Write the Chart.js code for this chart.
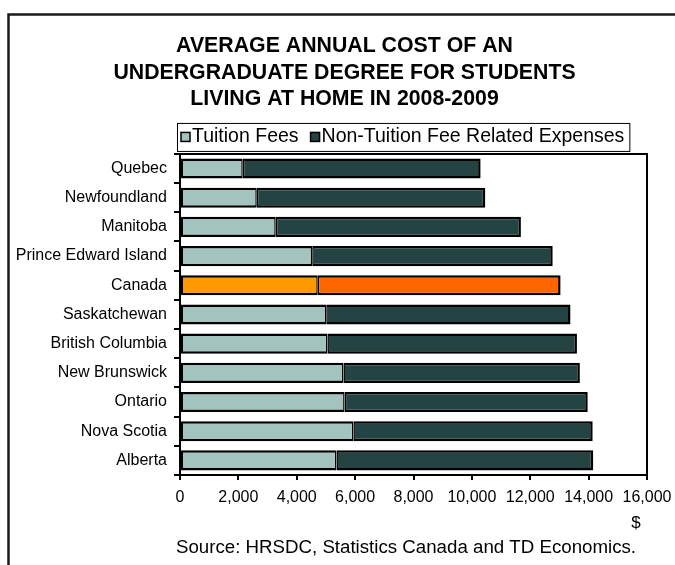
<!DOCTYPE html>
<html>
<head>
<meta charset="utf-8">
<script src="https://cdn.jsdelivr.net/npm/chart.js@4.4.1/dist/chart.umd.min.js"></script>
<style>
    html, body { margin: 0; padding: 0; background: #fff; }
</style>
</head>
<body>
<canvas id="chartCost" width="675" height="565"></canvas>
<script>
const provinces = ["Quebec", "Newfoundland", "Manitoba", "Prince Edward Island", "Canada",
    "Saskatchewan", "British Columbia", "New Brunswick", "Ontario", "Nova Scotia", "Alberta"];
const tuitionFees = [2150, 2630, 3280, 4530, 4720, 5010, 5050, 5600, 5640, 5940, 5360];
const otherExpenses = [8150, 7830, 8400, 8240, 8320, 8370, 8550, 8100, 8330, 8200, 8800];
const seriesNames = ["Tuition Fees", "Non-Tuition Fee Related Expenses"];
const xMin = 0, xMax = 16000, xStep = 2000;
const titleLines = ["AVERAGE ANNUAL COST OF AN", "UNDERGRADUATE DEGREE FOR STUDENTS", "LIVING AT HOME IN 2008-2009"];
const unitLabel = "$";
const sourceNote = "Source: HRSDC, Statistics Canada and TD Economics.";

const FONT = "'Liberation Sans', Arial, sans-serif";
const tuitionColor = "#A3C4BE", otherColor = "#244443";
const canadaTuition = "#FF9900", canadaOther = "#FF6600";

// Canada is the highlighted row
const tuitionColors = provinces.map(p => p === "Canada" ? canadaTuition : tuitionColor);
const otherColors = provinces.map(p => p === "Canada" ? canadaOther : otherColor);

const extras = {
    id: "extras",
    afterDraw(chart) {
        const ctx = chart.ctx;
        const a = chart.chartArea;
        ctx.save();

        // outer frame (top and left only visible)
        ctx.strokeStyle = "#1a1a1a";
        ctx.lineWidth = 2.5;
        ctx.beginPath();
        ctx.moveTo(8.5, 565);
        ctx.lineTo(8.5, 14.5);
        ctx.lineTo(675, 14.5);
        ctx.stroke();

        // plot area border
        ctx.strokeStyle = "#000";
        ctx.lineWidth = 2;
        ctx.beginPath();
        ctx.moveTo(a.left, a.top);
        ctx.lineTo(a.right, a.top);
        ctx.lineTo(a.right, a.bottom);
        ctx.stroke();

        // legend box
        ctx.font = "19.5px " + FONT;
        ctx.textBaseline = "middle";
        ctx.textAlign = "left";
        const boxLeft = a.left - 3, boxBottom = a.top - 3, boxTop = boxBottom - 28;
        const mid = (boxTop + boxBottom) / 2;
        let x = boxLeft + 4;
        const swatches = [tuitionColor, otherColor];
        seriesNames.forEach((name, i) => {
            ctx.fillStyle = swatches[i];
            ctx.fillRect(x, mid - 4.5, 9, 9);
            ctx.strokeStyle = "#000";
            ctx.lineWidth = 1.5;
            ctx.strokeRect(x, mid - 4.5, 9, 9);
            ctx.fillStyle = "#000";
            ctx.fillText(name, x + 11, mid);
            x += 11 + ctx.measureText(name).width + 12;
        });
        const boxRight = x - 12 + 5;
        ctx.lineWidth = 1;
        ctx.strokeStyle = "#000";
        ctx.strokeRect(boxLeft + 0.5, boxTop + 0.5, boxRight - boxLeft, boxBottom - boxTop);

        // unit and source
        ctx.fillStyle = "#000";
        ctx.textAlign = "center";
        ctx.font = "17px " + FONT;
        ctx.fillText(unitLabel, 636, 523);
        ctx.font = "18.7px " + FONT;
        ctx.fillText(sourceNote, 406, 548);
        ctx.restore();
    }
};

new Chart(document.getElementById("chartCost"), {
    type: "bar",
    data: {
        labels: provinces,
        datasets: [
            {
                label: seriesNames[0],
                data: tuitionFees,
                backgroundColor: tuitionColors,
                borderColor: "#000",
                borderWidth: { top: 2.5, bottom: 2.5, left: 2, right: 1.5 },
                borderSkipped: false,
                barPercentage: 0.69,
                categoryPercentage: 1
            },
            {
                label: seriesNames[1],
                data: otherExpenses,
                backgroundColor: otherColors,
                borderColor: "#000",
                borderWidth: { top: 2.5, bottom: 2.5, left: 1.5, right: 2.5 },
                borderSkipped: false,
                barPercentage: 0.69,
                categoryPercentage: 1
            }
        ]
    },
    options: {
        indexAxis: "y",
        responsive: false,
        animation: false,
        layout: { padding: { top: 14, left: 14, right: 0, bottom: 0 } },
        plugins: {
            legend: { display: false },
            tooltip: { enabled: false },
            title: {
                display: true,
                text: titleLines,
                color: "#000",
                font: { family: FONT, size: 21.3, weight: "bold", lineHeight: 1.24 },
                padding: { top: 19, bottom: 41.7 }
            }
        },
        scales: {
            x: {
                stacked: true,
                min: xMin,
                max: xMax,
                ticks: {
                    stepSize: xStep,
                    color: "#000",
                    font: { family: FONT, size: 16 },
                    padding: 8,
                    maxRotation: 0,
                    autoSkip: false,
                    callback: v => v.toLocaleString("en-US")
                },
                grid: { drawOnChartArea: false, tickLength: 5, color: "#000", lineWidth: 2 },
                border: { color: "#000", width: 2 },
                afterFit(scale) {
                    scale.height = 90;
                    scale.paddingRight = 28;
                }
            },
            y: {
                stacked: true,
                ticks: { color: "#000", font: { family: FONT, size: 16 }, padding: 7 },
                grid: { drawOnChartArea: false, tickLength: 6, color: "#000", lineWidth: 2, offset: true },
                border: { color: "#000", width: 2 },
                afterFit(scale) {
                    scale.width = 166;
                }
            }
        }
    },
    plugins: [extras]
});
</script>
</body>
</html>
